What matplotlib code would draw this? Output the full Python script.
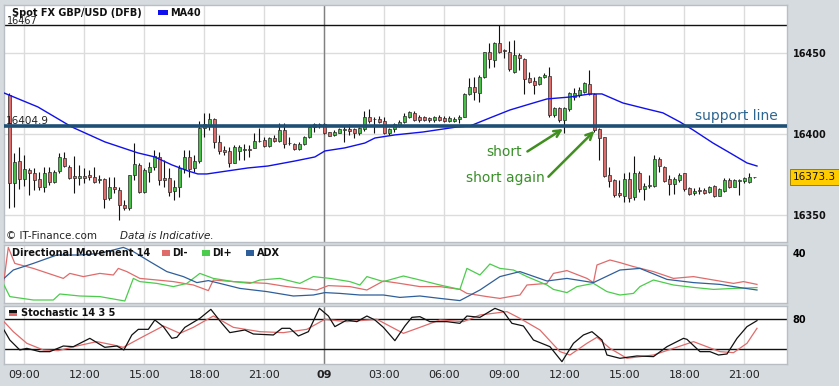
import matplotlib
matplotlib.use("Agg")
import matplotlib.pyplot as plt
from matplotlib.patches import Rectangle
import numpy as np

W, H = 839, 386

# 15-minute candles, index 0 = 08:15 on day one
tick_pos = [3, 15, 27, 39, 51, 63, 75, 87, 99, 111, 123, 135, 147]
tick_labels = ["09:00", "12:00", "15:00", "18:00", "21:00", "09", "03:00",
               "06:00", "09:00", "12:00", "15:00", "18:00", "21:00"]

opens = [
    16424.0, 16369.5, 16383.3, 16372.0, 16377.7, 16375.7, 16372.0, 16367.4, 16376.7, 16370.5,
    16377.3, 16385.0, 16379.4, 16374.2, 16372.6, 16374.2, 16374.6, 16373.6, 16371.6, 16372.0,
    16360.2, 16367.0, 16365.4, 16356.1, 16354.0, 16374.6, 16380.8, 16364.4, 16376.7, 16379.8,
    16386.0, 16372.6, 16372.6, 16365.0, 16367.4, 16378.1, 16385.6, 16378.8, 16383.3, 16403.5,
    16405.5, 16409.2, 16394.8, 16390.1, 16389.5, 16382.3, 16389.7, 16390.1, 16390.5, 16391.1,
    16395.6, 16396.3, 16392.8, 16397.3, 16395.6, 16402.4, 16394.2, 16393.8, 16390.7, 16393.8,
    16397.9, 16404.5, 16406.1, 16406.1, 16401.0, 16399.3, 16400.8, 16402.4, 16402.8, 16402.8,
    16400.4, 16402.8, 16410.3, 16409.0, 16409.0, 16408.0, 16400.4, 16402.9, 16405.0, 16407.2,
    16410.7, 16413.2, 16410.7, 16410.7, 16410.1, 16408.7, 16410.7, 16410.1, 16408.3, 16408.1,
    16409.1, 16410.7, 16424.7, 16428.8, 16425.5, 16435.0, 16450.4, 16445.7, 16456.4, 16451.5,
    16450.8, 16438.5, 16448.8, 16446.1, 16434.4, 16432.7, 16430.9, 16435.0, 16435.8, 16411.7,
    16415.9, 16408.7, 16415.2, 16423.1, 16424.1, 16426.2, 16430.9, 16424.7, 16402.9, 16398.0,
    16374.7, 16371.6, 16363.4, 16361.7, 16372.0, 16360.9, 16376.1, 16365.8, 16367.9, 16367.9,
    16384.4, 16379.9, 16372.0, 16369.2, 16371.6, 16375.7, 16366.5, 16363.4, 16365.4, 16365.4,
    16364.4, 16367.9, 16361.7, 16365.0, 16371.6, 16367.5, 16371.2, 16371.2, 16370.6, 16373.3,
]
closes = [
    16369.5, 16382.9, 16372.0, 16378.1, 16375.7, 16371.6, 16367.4, 16376.1, 16370.5, 16376.7,
    16385.6, 16380.2, 16372.6, 16372.6, 16374.2, 16372.6, 16373.2, 16370.5, 16371.6, 16359.6,
    16367.0, 16365.8, 16356.1, 16354.0, 16374.6, 16381.4, 16364.4, 16377.7, 16379.4, 16386.4,
    16371.6, 16371.6, 16364.4, 16367.0, 16378.8, 16385.6, 16378.1, 16383.3, 16403.9, 16406.1,
    16409.2, 16395.2, 16389.7, 16389.1, 16382.3, 16391.7, 16391.7, 16390.3, 16390.1, 16395.6,
    16395.4, 16392.8, 16397.3, 16395.8, 16402.4, 16393.8, 16394.2, 16390.5, 16393.8, 16397.9,
    16404.5, 16405.9, 16406.3, 16400.4, 16398.9, 16401.0, 16402.8, 16402.6, 16402.0, 16400.4,
    16403.5, 16410.3, 16408.2, 16409.2, 16407.6, 16400.4, 16402.8, 16406.0, 16407.6, 16411.1,
    16413.8, 16408.7, 16408.7, 16408.7, 16408.7, 16410.7, 16408.7, 16408.1, 16410.1, 16409.3,
    16410.7, 16424.7, 16428.8, 16425.7, 16435.4, 16450.4, 16446.1, 16456.4, 16450.8, 16451.3,
    16439.9, 16448.8, 16446.7, 16433.8, 16432.3, 16430.3, 16435.0, 16436.4, 16411.7, 16415.9,
    16408.7, 16415.9, 16425.1, 16425.5, 16427.2, 16431.3, 16424.7, 16402.5, 16397.3, 16374.1,
    16371.2, 16362.4, 16362.4, 16372.0, 16360.3, 16376.1, 16365.8, 16367.9, 16368.5, 16384.4,
    16380.3, 16371.2, 16369.2, 16372.0, 16374.7, 16365.8, 16363.0, 16365.0, 16364.8, 16363.8,
    16367.5, 16361.7, 16365.8, 16371.6, 16367.1, 16371.6, 16371.6, 16372.6, 16373.7, 16373.3,
]
highs = [
    16425.0, 16388.0, 16392.0, 16387.0, 16378.8, 16378.8, 16376.7, 16379.4, 16379.8, 16377.7,
    16388.0, 16389.0, 16380.8, 16386.4, 16380.8, 16378.8, 16377.7, 16379.8, 16374.6, 16372.6,
    16373.6, 16373.6, 16367.4, 16359.2, 16374.6, 16394.2, 16381.8, 16378.8, 16382.9, 16390.1,
    16389.0, 16383.9, 16378.8, 16371.6, 16380.8, 16390.1, 16390.1, 16387.0, 16408.2, 16412.7,
    16413.1, 16409.6, 16399.3, 16392.5, 16392.1, 16393.2, 16393.2, 16393.8, 16393.2, 16400.4,
    16403.5, 16398.3, 16398.3, 16399.3, 16406.5, 16406.5, 16398.3, 16394.6, 16395.2, 16398.7,
    16405.5, 16406.5, 16407.0, 16407.0, 16401.4, 16402.4, 16403.9, 16405.5, 16405.9, 16403.5,
    16404.5, 16414.4, 16415.2, 16410.3, 16411.1, 16410.7, 16403.5, 16407.0, 16408.7, 16412.8,
    16414.4, 16414.4, 16411.7, 16411.1, 16410.7, 16411.1, 16411.7, 16411.1, 16411.1, 16410.7,
    16411.7, 16425.1, 16434.4, 16435.4, 16436.4, 16450.8, 16456.0, 16457.0, 16467.0, 16452.3,
    16457.6, 16458.1, 16449.8, 16446.7, 16438.5, 16435.4, 16435.8, 16437.5, 16441.6, 16416.9,
    16416.9, 16416.9, 16426.2, 16428.2, 16429.2, 16432.3, 16439.5, 16425.0, 16403.5, 16398.4,
    16379.9, 16372.0, 16371.6, 16375.7, 16376.8, 16386.4, 16377.4, 16370.0, 16374.7, 16387.1,
    16386.0, 16380.3, 16374.7, 16373.3, 16375.7, 16376.1, 16367.5, 16366.5, 16367.5, 16366.5,
    16367.9, 16368.5, 16366.5, 16372.6, 16372.6, 16372.0, 16372.0, 16373.5, 16376.0, 16373.5,
]
lows = [
    16354.0, 16355.0, 16366.0, 16368.0, 16362.3, 16365.4, 16365.4, 16364.4, 16368.5, 16369.5,
    16375.7, 16379.4, 16372.0, 16363.7, 16368.5, 16369.5, 16371.6, 16369.5, 16369.5, 16354.0,
    16359.2, 16363.3, 16346.9, 16353.0, 16353.0, 16371.6, 16363.3, 16363.3, 16370.5, 16377.7,
    16368.5, 16367.4, 16361.7, 16359.2, 16361.3, 16375.7, 16373.6, 16376.7, 16382.3, 16398.3,
    16402.4, 16391.1, 16387.6, 16387.0, 16379.4, 16381.9, 16383.9, 16383.9, 16385.6, 16391.1,
    16395.2, 16392.1, 16392.1, 16395.2, 16395.2, 16391.1, 16393.2, 16390.1, 16390.1, 16393.2,
    16397.3, 16401.4, 16403.5, 16400.0, 16398.7, 16398.7, 16400.4, 16395.2, 16399.3, 16397.3,
    16399.3, 16402.0, 16407.0, 16400.8, 16406.5, 16400.0, 16399.3, 16401.5, 16404.5, 16406.6,
    16409.7, 16408.1, 16407.6, 16408.1, 16407.6, 16407.6, 16408.1, 16407.6, 16407.6, 16407.2,
    16406.6, 16410.3, 16424.1, 16421.0, 16420.0, 16434.4, 16440.6, 16441.6, 16449.8, 16446.7,
    16439.1, 16437.5, 16439.5, 16424.7, 16431.3, 16424.7, 16430.3, 16434.4, 16410.7, 16410.7,
    16407.6, 16400.4, 16414.4, 16421.0, 16422.6, 16425.1, 16424.0, 16401.5, 16384.0, 16373.7,
    16367.5, 16361.3, 16361.3, 16358.2, 16358.2, 16359.3, 16364.4, 16359.3, 16366.5, 16367.5,
    16376.8, 16370.6, 16362.4, 16363.0, 16370.6, 16365.0, 16362.4, 16362.4, 16363.0, 16363.0,
    16363.4, 16361.3, 16361.7, 16364.4, 16366.5, 16367.1, 16362.4, 16369.6, 16370.0, 16373.1,
]

ma_x = [-1.06, 5.7, 12.5, 19.1, 25.7, 29.1, 32.5, 35.7, 37.7, 39.5, 43.7, 47.7, 51.7,
        57.1, 61.1, 63.1, 67.1, 71.1, 73.1, 77.1, 82.7, 89.5, 92.1, 96.1, 100.1, 104.1,
        107.5, 112.1, 116.1, 118.5, 122.7, 127.5, 130.7, 134.1, 136.7, 140.7, 144.1,
        147.5, 149.5]
ma_y = [16425.3, 16416.7, 16404.3, 16395.1, 16388.3, 16385.8, 16380.9, 16377.2, 16375.3,
        16375.3, 16377.2, 16379.0, 16380.2, 16383.3, 16385.8, 16389.5, 16391.4, 16394.4,
        16397.5, 16399.4, 16401.2, 16404.3, 16404.9, 16409.9, 16414.8, 16418.5, 16421.6,
        16422.8, 16424.7, 16424.7, 16419.1, 16415.4, 16413.0, 16407.4, 16402.5, 16394.4,
        16388.3, 16382.1, 16380.2]

high_level = 16467
support_level = 16404.9
last_price = 16373.3

di_minus_x = [-1.06, -0.2, 1.1, 4.8, 10.8, 12.1, 14.8, 18.1, 20.8, 21.8, 23.5, 26.1, 29.5,
              32.8, 36.8, 39.8, 40.8, 44.8, 51.5, 55.5, 61.5, 63.8, 68.1, 71.5, 74.8, 78.1,
              82.1, 86.1, 90.1, 91.5, 95.5, 98.1, 100.8, 102.1, 103.5, 107.5, 108.8, 111.5,
              115.5, 116.8, 117.5, 120.1, 122.1, 124.8, 128.8, 132.8, 136.8, 140.8, 144.8,
              146.8, 149.5]
di_minus = [26.5, 42.8, 34.8, 32.3, 27.3, 29.8, 28.2, 29.8, 29.0, 32.3, 30.7, 27.3, 26.5,
            25.7, 24.0, 21.2, 26.5, 25.7, 24.8, 23.2, 21.5, 23.7, 23.2, 21.5, 26.0, 24.8,
            23.2, 23.2, 21.8, 19.8, 18.2, 17.3, 18.5, 19.0, 24.0, 24.8, 29.8, 31.2, 27.3,
            25.2, 34.0, 36.5, 35.2, 33.2, 30.7, 27.3, 28.2, 26.5, 24.8, 25.7, 24.3]

di_plus_x = [-1.06, 0.1, 4.8, 8.8, 10.1, 14.1, 18.1, 23.1, 24.8, 26.1, 29.5, 32.8, 35.5,
             38.1, 40.8, 44.8, 48.1, 50.1, 54.1, 58.1, 60.8, 64.1, 68.1, 70.1, 71.5, 74.8,
             78.8, 82.1, 86.1, 90.1, 91.5, 94.1, 96.1, 98.1, 100.8, 103.5, 107.5, 108.8,
             111.5, 113.5, 116.8, 119.5, 122.1, 124.8, 126.1, 128.8, 132.8, 136.8, 140.8,
             144.8, 149.5]
di_plus = [24.0, 18.2, 16.5, 16.5, 19.5, 18.5, 18.2, 16.0, 27.3, 25.7, 24.8, 23.2, 24.8,
           29.8, 27.3, 25.7, 24.8, 26.5, 27.3, 24.8, 28.2, 27.3, 25.7, 24.0, 28.2, 25.7,
           28.5, 26.5, 24.0, 21.8, 32.3, 29.0, 34.5, 32.3, 31.5, 28.2, 24.0, 21.8, 20.2,
           23.2, 24.8, 20.7, 19.0, 19.8, 23.2, 26.5, 24.0, 22.8, 21.8, 22.3, 22.7]

adx_x = [-1.06, 0.8, 4.8, 9.5, 14.1, 18.1, 22.8, 24.8, 28.1, 31.5, 34.8, 37.5, 39.8, 42.1,
         46.1, 51.5, 56.8, 60.8, 63.1, 66.1, 70.1, 74.8, 78.1, 82.1, 86.1, 90.1, 94.1, 98.1,
         102.1, 107.5, 111.5, 116.8, 122.1, 126.1, 131.5, 136.8, 142.1, 146.1, 149.5]
adx = [27.3, 31.5, 34.8, 39.0, 39.0, 39.8, 42.8, 40.7, 35.7, 30.7, 28.2, 25.2, 26.2, 24.8,
       22.3, 20.7, 18.5, 19.0, 20.2, 19.8, 19.0, 19.0, 17.8, 18.5, 17.3, 16.2, 21.5, 28.2,
       30.7, 26.0, 27.3, 25.2, 31.5, 32.3, 26.8, 25.2, 24.3, 22.7, 21.5]

stoch_k_x = [-1.06, 0.1, 2.1, 3.5, 6.1, 8.1, 10.8, 12.8, 16.1, 19.1, 21.5, 22.9, 24.5,
             25.8, 27.8, 29.1, 30.8, 32.5, 33.5, 35.1, 38.1, 40.3, 42.5, 44.1, 47.1, 48.8,
             52.8, 54.5, 56.1, 57.8, 59.8, 62.0, 63.8, 65.1, 67.5, 69.5, 71.5, 73.1, 74.8,
             77.1, 79.1, 80.5, 82.1, 84.1, 87.5, 90.1, 91.5, 94.1, 97.1, 98.8, 100.5, 102.8,
             104.8, 108.1, 110.5, 112.8, 114.8, 116.5, 118.5, 119.5, 122.1, 125.5, 128.8,
             131.5, 134.8, 135.5, 138.1, 140.1, 141.8, 143.5, 145.5, 147.5, 149.5]
stoch_k = [62.2, 45.5, 28.9, 31.6, 26.1, 26.1, 35.5, 34.4, 48.3, 33.3, 35.5, 28.9, 53.9,
           63.3, 63.3, 78.9, 67.8, 48.3, 50.0, 66.6, 81.6, 96.6, 73.3, 57.8, 62.2, 55.5,
           53.9, 65.0, 65.0, 52.2, 59.4, 98.3, 85.5, 67.8, 78.9, 76.1, 85.5, 78.9, 66.6,
           44.4, 68.9, 83.3, 84.4, 76.1, 76.1, 73.3, 85.5, 83.3, 98.3, 92.8, 73.3, 68.9,
           45.5, 34.4, 9.4, 40.0, 53.9, 59.4, 45.5, 20.5, 15.0, 18.9, 17.8, 34.4, 48.3,
           46.6, 26.1, 26.1, 20.5, 22.2, 48.3, 67.8, 77.8]

stoch_d_x = [-1.06, 0.8, 3.5, 6.8, 9.8, 13.5, 17.5, 20.8, 22.8, 26.1, 30.8, 34.1, 36.8,
             40.8, 44.8, 50.1, 54.8, 59.5, 63.1, 67.5, 73.5, 78.8, 82.1, 86.1, 90.8, 94.1,
             99.5, 102.1, 106.1, 110.1, 112.1, 115.5, 117.5, 120.1, 123.5, 128.8, 132.8,
             136.8, 142.1, 144.8, 147.5, 149.5]
stoch_d = [76.1, 59.4, 40.0, 28.9, 27.8, 35.5, 42.8, 37.2, 33.3, 48.3, 68.9, 56.6, 66.6,
           85.5, 66.6, 59.4, 57.8, 63.3, 80.0, 76.1, 80.0, 56.6, 66.6, 78.9, 76.1, 87.2,
           92.8, 81.6, 62.2, 26.1, 20.5, 40.0, 50.0, 31.6, 15.0, 20.5, 31.6, 42.8, 26.1,
           24.4, 40.0, 65.0]

BG = "#d6dbe0"
SPINE = "#b9bec4"
GRID = "#dcdcdc"
RED = "#e06b6b"
GREEN = "#45c045"
X0, X1 = -1.06, 155.5


def fx(px):
    return px / W


def fy(py):
    return 1 - py / H


fig = plt.figure(figsize=(W / 100, H / 100), dpi=100, facecolor=BG)
left, width = fx(4), 783 / W
ax = fig.add_axes([left, 144 / H, width, 237 / H])
ax_dm = fig.add_axes([left, 83 / H, width, 58 / H])
ax_st = fig.add_axes([left, 22 / H, width, 58 / H])

for a in (ax, ax_dm, ax_st):
    a.set_facecolor("white")
    a.set_xlim(X0, X1)
    for s in a.spines.values():
        s.set_color(SPINE)
        s.set_linewidth(1)
    a.set_xticks(tick_pos)
    a.tick_params(length=0)
    a.yaxis.tick_right()
    a.grid(axis="x", color=GRID, lw=1, zorder=0)
    a.axvline(tick_pos[5], color="#808080", lw=1, zorder=1)
    a.set_axisbelow(True)

# --- price panel ---
ax.set_ylim(16333.3, 16479.6)
ax.set_yticks([16350, 16400, 16450])
ax.grid(axis="y", color=GRID, lw=1, zorder=0)
ax.set_xticklabels([])
for lab in ax.get_yticklabels():
    lab.set_fontsize(7)
    lab.set_fontweight("bold")
    lab.set_color("#111111")
ax.tick_params(axis="y", pad=4)

x = np.arange(len(opens))
o = np.array(opens)
c = np.array(closes)
hi = np.maximum(np.array(highs), np.maximum(o, c))
lo = np.minimum(np.array(lows), np.minimum(o, c))
body_low = np.minimum(o, c)
body_h = np.maximum(np.abs(c - o), 0.35)
cols = np.where(c >= o, GREEN, RED)
ax.vlines(x, lo, hi, color="#111111", lw=0.8, zorder=3)
ax.bar(x, body_h, bottom=body_low, width=0.62, color=cols, edgecolor="#2a2a2a",
       linewidth=0.5, zorder=4)

ax.plot(ma_x, ma_y, color="#1010ee", lw=1, zorder=5)
ax.axhline(high_level, color="#111111", lw=1, zorder=2)
ax.axhline(support_level, color="#1d4f74", lw=2.6, zorder=6)

ax.text(X0 + 0.6, high_level + 0.6, f"{high_level}", fontsize=7, color="#222222",
        va="baseline", ha="left")
ax.text(X0 + 0.4, support_level + 1.0, f"{support_level}", fontsize=7.5,
        color="#222222", va="baseline", ha="left", zorder=7)

ax.text(145.3, 16411.1, "support line", fontsize=10, color="#2c6690", ha="center",
        va="center")
ax.text(98.9, 16388.9, "short", fontsize=10, color="#3a8f2a", ha="center", va="center")
ax.text(99.2, 16372.8, "short again", fontsize=10, color="#3a8f2a", ha="center",
        va="center")
arrow = dict(arrowstyle="->", color="#3f8f1f", lw=1.8, mutation_scale=12,
             shrinkA=0, shrinkB=0)
ax.annotate("", xy=(110.7, 16403.1), xytext=(103.6, 16389.2), arrowprops=arrow)
ax.annotate("", xy=(117.0, 16401.9), xytext=(107.8, 16373.6), arrowprops=arrow)

ax.annotate(f"{last_price}", xy=(1.0, last_price),
            xycoords=("axes fraction", "data"), xytext=(4, 0),
            textcoords="offset points", fontsize=7.5, color="#111111",
            va="center", ha="left", annotation_clip=False,
            bbox=dict(boxstyle="square,pad=0.28", fc="#ffcc00", ec="#8a7000", lw=0.6))

fig.text(fx(12), fy(15.5), "Spot FX GBP/USD (DFB)", fontsize=7, fontweight="bold",
         va="baseline", color="#111111")
fig.add_artist(Rectangle((fx(158), fy(15)), 10 / W, 5 / H, transform=fig.transFigure,
                         fc="#1010ee", ec="none"))
fig.text(fx(170), fy(15.5), "MA40", fontsize=7, fontweight="bold", va="baseline",
         color="#111111")
fig.text(fx(6), fy(236), "\u00a9 IT-Finance.com", fontsize=7.5, va="center",
         color="#222222")
fig.text(fx(120), fy(236), "Data is Indicative.", fontsize=7.5, style="italic",
         va="center", color="#222222")

# --- directional movement panel ---
ax_dm.set_ylim(15, 44)
ax_dm.set_yticks([40])
ax_dm.set_xticklabels([])
ax_dm.plot(di_minus_x, di_minus, color=RED, lw=0.9, zorder=3)
ax_dm.plot(di_plus_x, di_plus, color="#4ccc4c", lw=0.9, zorder=3)
ax_dm.plot(adx_x, adx, color="#2f5f9a", lw=0.9, zorder=3)
for lab in ax_dm.get_yticklabels():
    lab.set_fontsize(7)
    lab.set_fontweight("bold")
ax_dm.tick_params(axis="y", pad=4)

fig.text(fx(12), fy(252.7), "Directional Movement 14", fontsize=7, fontweight="bold",
         va="center", color="#111111")
for px, name, col in [(162, "DI-", RED), (202, "DI+", "#4ccc4c"), (246, "ADX", "#2f5f9a")]:
    fig.add_artist(Rectangle((fx(px), fy(256)), 8 / W, 6 / H, transform=fig.transFigure,
                             fc=col, ec="none"))
    fig.text(fx(px + 10.5), fy(252.7), name, fontsize=7, fontweight="bold",
             va="center", color="#111111")

# --- stochastic panel ---
ax_st.set_ylim(5.5, 102.2)
ax_st.set_yticks([80])
ax_st.axhline(80, color="#111111", lw=1, zorder=2)
ax_st.axhline(30, color="#111111", lw=1, zorder=2)
ax_st.plot(stoch_d_x, stoch_d, color=RED, lw=0.9, zorder=3)
ax_st.plot(stoch_k_x, stoch_k, color="#111111", lw=0.9, zorder=4)
for lab in ax_st.get_yticklabels():
    lab.set_fontsize(7)
    lab.set_fontweight("bold")
ax_st.tick_params(axis="y", pad=4)
ax_st.set_xticklabels(tick_labels, fontsize=8, color="#222222")
ax_st.tick_params(axis="x", pad=4)
ax_st.get_xticklabels()[5].set_fontweight("bold")

fig.add_artist(Rectangle((fx(9), fy(316)), 8 / W, 6 / H, transform=fig.transFigure,
                         fc=RED, ec="none"))
fig.add_artist(Rectangle((fx(9), fy(313)), 8 / W, 3 / H, transform=fig.transFigure,
                         fc="#111111", ec="none"))
fig.text(fx(21), fy(313), "Stochastic 14 3 5", fontsize=7, fontweight="bold",
         va="center", color="#111111")

fig.savefig("out.png", dpi=100, facecolor=BG)
